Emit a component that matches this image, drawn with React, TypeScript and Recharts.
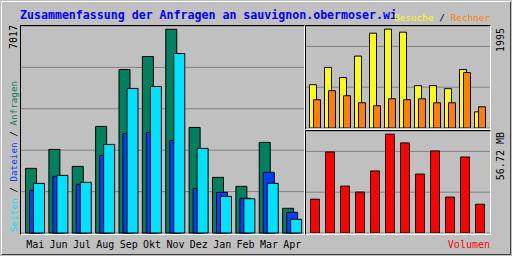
import { BarChart, Bar, XAxis, YAxis, CartesianGrid } from 'recharts'

const months = ['Mai', 'Jun', 'Jul', 'Aug', 'Sep', 'Okt', 'Nov', 'Dez', 'Jan', 'Feb', 'Mar', 'Apr']
const anfragen = [2226, 2879, 2294, 3670, 5631, 6078, 7017, 3636, 1916, 1606, 3120, 850]
const dateien = [1469, 1950, 1675, 2673, 3430, 3464, 3189, 1538, 1400, 1194, 2088, 712]
const seiten = [1710, 1985, 1744, 3051, 4978, 5046, 6182, 2914, 1262, 1180, 1710, 471]
const besuche = [875, 1222, 1018, 1452, 1914, 1995, 1934, 855, 855, 794, 1181, 326]
const rechner = [570, 753, 651, 509, 448, 590, 570, 590, 509, 509, 1120, 428]
const volumen = [19.4, 46.5, 26.9, 23.5, 35.6, 56.72, 51.7, 33.8, 47.1, 20.6, 43.6, 16.5]

const GREY = '#c0c0c0'
const GRID = '#808080'
const MONO = '"DejaVu Sans Mono", monospace'

// webalizer leaves a few px of headroom above the tallest bar
const headroom = (max: number) => max * 1.032
const gridTicks = (top: number) => [0.2, 0.4, 0.6, 0.8].map((f) => f * top)

const mainData = months.map((m, i) => ({ month: m, anfragen: anfragen[i], dateien: dateien[i], seiten: seiten[i] }))
const visitData = months.map((m, i) => ({ month: m, besuche: besuche[i], rechner: rechner[i] }))
const volData = months.map((m, i) => ({ month: m, volumen: volumen[i] }))

const mainTop = Math.max(...anfragen) * 1.016
const visitTop = headroom(Math.max(...besuche))
const volTop = headroom(Math.max(...volumen))

function Frame({ left, top, width, height }: { left: number; top: number; width: number; height: number }) {
  return (
    <div
      style={{
        position: 'absolute',
        left,
        top,
        width,
        height,
        boxSizing: 'border-box',
        borderTop: '1px solid #000',
        borderLeft: '1px solid #000',
        borderRight: '1px solid #fff',
        borderBottom: '1px solid #fff',
      }}
    />
  )
}

export default function App() {
  return (
    <div
      style={{
        position: 'absolute',
        left: 0,
        top: 0,
        width: 512,
        height: 256,
        background: GREY,
        overflow: 'hidden',
      }}
    >
      <div
        style={{
          position: 'absolute',
          left: 1,
          top: 1,
          width: 510,
          height: 254,
          boxSizing: 'border-box',
          borderTop: '1px solid #fff',
          borderLeft: '1px solid #fff',
          borderRight: '1px solid #404040',
          borderBottom: '1px solid #404040',
        }}
      />
      <Frame left={20} top={25} width={285} height={210} />
      <Frame left={305} top={25} width={186} height={105} />
      <Frame left={305} top={130} width={186} height={105} />

      {/* Anfragen / Dateien / Seiten */}
      <div style={{ position: 'absolute', left: 21, top: 26 }}>
        <BarChart width={283} height={230} data={mainData} margin={{ top: 0, right: 0, bottom: 0, left: 0 }} barGap={-7}>
          <CartesianGrid vertical={false} stroke={GRID} strokeWidth={1} />
          <XAxis
            dataKey="month"
            height={23}
            padding={{ left: 2.5, right: 0 }}
            axisLine={false}
            tickLine={false}
            tickMargin={2}
            interval={0}
            tick={{ fontSize: 10, fill: '#000', fontFamily: MONO }}
          />
          <YAxis hide domain={[0, mainTop]} ticks={gridTicks(mainTop)} />
          <Bar dataKey="anfragen" fill="#00805c" stroke="#000" barSize={11} isAnimationActive={false} />
          <Bar dataKey="dateien" fill="#0040ff" stroke="#000" barSize={11} isAnimationActive={false} />
          <Bar dataKey="seiten" fill="#00e0ff" stroke="#000" barSize={11} isAnimationActive={false} />
        </BarChart>
      </div>

      {/* Besuche / Rechner */}
      <div style={{ position: 'absolute', left: 306, top: 26 }}>
        <BarChart width={184} height={102} data={visitData} margin={{ top: 0, right: 0, bottom: 0, left: 0 }} barGap={-3}>
          <CartesianGrid vertical={false} stroke={GRID} strokeWidth={1} />
          <XAxis dataKey="month" hide padding={{ left: 1.5, right: 2.5 }} />
          <YAxis hide domain={[0, visitTop]} ticks={gridTicks(visitTop)} />
          <Bar dataKey="besuche" fill="#ffff00" stroke="#000" barSize={7} isAnimationActive={false} />
          <Bar dataKey="rechner" fill="#ff8000" stroke="#000" barSize={7} isAnimationActive={false} />
        </BarChart>
      </div>

      {/* Volumen */}
      <div style={{ position: 'absolute', left: 306, top: 131 }}>
        <BarChart width={184} height={102} data={volData} margin={{ top: 0, right: 0, bottom: 0, left: 0 }}>
          <CartesianGrid vertical={false} stroke={GRID} strokeWidth={1} />
          <XAxis dataKey="month" hide padding={{ left: 1.5, right: 2.5 }} />
          <YAxis hide domain={[0, volTop]} ticks={gridTicks(volTop)} />
          <Bar dataKey="volumen" fill="#ff0000" stroke="#000" barSize={9} isAnimationActive={false} />
        </BarChart>
      </div>

      <svg width={512} height={256} style={{ position: 'absolute', left: 0, top: 0, pointerEvents: 'none' }}>
        <text x={20} y={19} fontFamily={MONO} fontWeight="bold" fontSize={11.6} fill="#0000ff">
          Zusammenfassung der Anfragen an sauvignon.obermoser.wi
        </text>
        <text x={490} y={20.5} textAnchor="end" fontFamily={MONO} fontSize={9.4}>
          <tspan fill="#ffff00">Besuche</tspan>
          <tspan fill="#000"> / </tspan>
          <tspan fill="#ff8000">Rechner</tspan>
        </text>
        <text transform="translate(16.5,25) rotate(-90)" textAnchor="end" fontFamily={MONO} fontSize={10} fill="#000">
          {Math.max(...anfragen)}
        </text>
        <text transform="translate(16.5,232) rotate(-90)" fontFamily={MONO} fontSize={9.3}>
          <tspan fill="#00e0ff">Seiten</tspan>
          <tspan fill="#000"> / </tspan>
          <tspan fill="#0040ff">Dateien</tspan>
          <tspan fill="#000"> / </tspan>
          <tspan fill="#00805c">Anfragen</tspan>
        </text>
        <text transform="translate(504,28) rotate(-90)" textAnchor="end" fontFamily={MONO} fontSize={10} fill="#000">
          {Math.max(...besuche)}
        </text>
        <text transform="translate(504,132) rotate(-90)" textAnchor="end" fontFamily={MONO} fontSize={10} fill="#000">
          {Math.max(...volumen).toFixed(2)} MB
        </text>
        <text x={490} y={248} textAnchor="end" fontFamily={MONO} fontSize={10} fill="#ff0000">
          Volumen
        </text>
      </svg>
    </div>
  )
}
